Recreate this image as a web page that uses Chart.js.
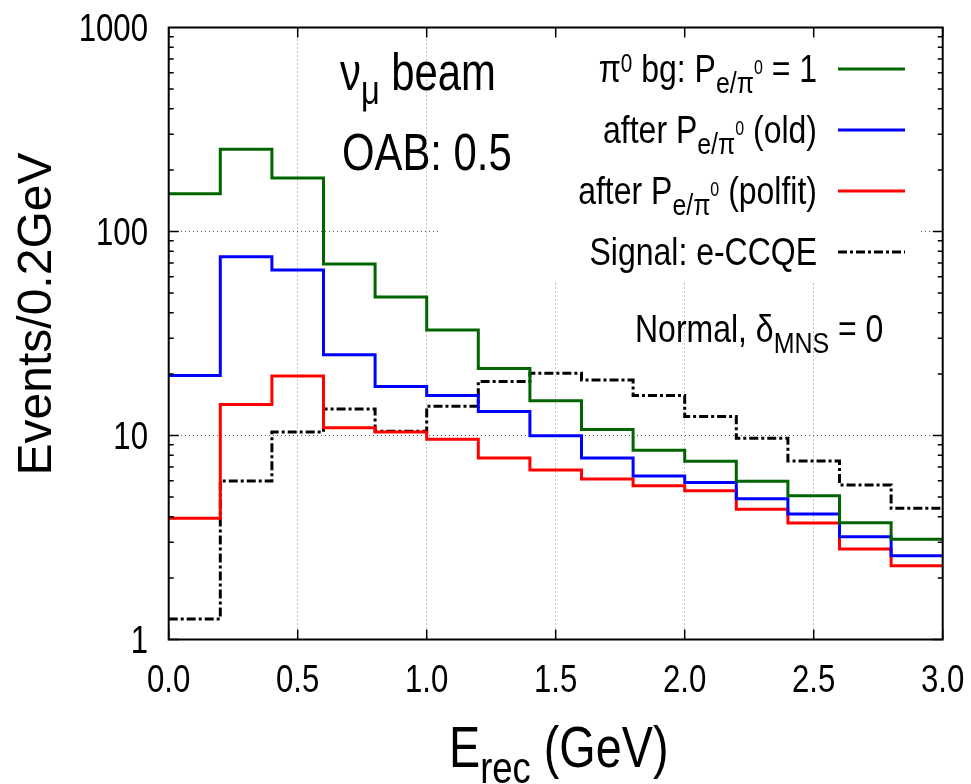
<!DOCTYPE html>
<html>
<head>
<meta charset="utf-8">
<title>pi0 background vs e-CCQE signal</title>
<script src="https://cdn.jsdelivr.net/npm/chart.js@4.4.1/dist/chart.umd.min.js"></script>
<style>
    html, body { margin: 0; padding: 0; background: #fff; }
    #histChart { display: block; }
</style>
</head>
<body>
<canvas id="histChart" width="971" height="784"></canvas>
<script>
// Bin edges in E_rec (GeV), 0.2 GeV bins
const binEdges = [0.0, 0.2, 0.4, 0.6, 0.8, 1.0, 1.2, 1.4, 1.6, 1.8, 2.0, 2.2, 2.4, 2.6, 2.8, 3.0];

// Events per bin
const pi0Background = [153, 253, 183, 69.3, 47.7, 32.9, 21.3, 14.8, 10.7, 8.46, 7.47, 5.96, 5.07, 3.74, 3.10];
const afterOld      = [19.7, 75.2, 64.8, 24.9, 17.4, 15.7, 13.1, 9.98, 7.76, 6.33, 5.89, 4.90, 4.12, 3.19, 2.57];
const afterPolfit   = [3.93, 14.2, 19.6, 10.9, 10.4, 9.58, 7.76, 6.78, 6.12, 5.67, 5.36, 4.35, 3.72, 2.78, 2.30];
const signalCCQE    = [1.26, 5.98, 10.4, 13.5, 10.5, 13.9, 18.4, 20.2, 18.7, 15.7, 12.4, 9.69, 7.50, 5.72, 4.40];

// Axis ticks
const xTicks = [0.0, 0.5, 1.0, 1.5, 2.0, 2.5, 3.0];
const xTickLabels = ['0.0', '0.5', '1.0', '1.5', '2.0', '2.5', '3.0'];
const yTicks = [1, 10, 100, 1000];
const yTickLabels = ['1', '10', '100', '1000'];

const REGULAR = "'Liberation Sans', Arial, sans-serif";
const SQ = 0.82; // horizontal squeeze, the original uses a narrow Helvetica

// turn bin contents into points for a stepped line
function toSteps(values) {
    const pts = values.map((v, i) => ({ x: binEdges[i], y: v }));
    pts.push({ x: binEdges[binEdges.length - 1], y: values[values.length - 1] });
    return pts;
}

// draw narrow text with sub/superscripts; parts = [[text, kind], ...]
const KINDS = {
    n:  { s: 1.0,  dy: 0 },
    sup: { s: 0.65, dy: -0.25 },
    sub: { s: 0.78, dy: 0.28 },
    subsup: { s: 0.5, dy: -0.2 }
};
function richWidth(ctx, parts, size) {
    let w = 0;
    parts.forEach(([t, k]) => {
        ctx.font = `${size * KINDS[k].s}px ${REGULAR}`;
        w += ctx.measureText(t).width * SQ;
    });
    return w;
}
function drawRich(ctx, parts, x, y, size, align) {
    const w = richWidth(ctx, parts, size);
    let cx = x;
    if (align === 'right') cx = x - w;
    if (align === 'center') cx = x - w / 2;
    ctx.textAlign = 'left';
    ctx.textBaseline = 'alphabetic';
    parts.forEach(([t, k]) => {
        ctx.font = `${size * KINDS[k].s}px ${REGULAR}`;
        ctx.save();
        ctx.translate(cx, y + KINDS[k].dy * size);
        ctx.scale(SQ, 1);
        ctx.fillText(t, 0, 0);
        ctx.restore();
        cx += ctx.measureText(t).width * SQ;
    });
}

const legendRows = [
    { parts: [['π', 'n'], ['0', 'sup'], [' bg: P', 'n'], ['e/π', 'sub'], ['0', 'subsup'], [' = 1', 'n']], color: '#006400', dash: [] },
    { parts: [['after P', 'n'], ['e/π', 'sub'], ['0', 'subsup'], [' (old)', 'n']], color: '#0000ff', dash: [] },
    { parts: [['after P', 'n'], ['e/π', 'sub'], ['0', 'subsup'], [' (polfit)', 'n']], color: '#ff0000', dash: [] },
    { parts: [['Signal: e-CCQE', 'n']], color: '#000000', dash: [9, 3, 3, 3] }
];

const decorPlugin = {
    id: 'decor',
    beforeDatasetsDraw(chart) {
        // opaque key box, hides the grid behind the legend
        const ctx = chart.ctx;
        ctx.save();
        ctx.fillStyle = '#ffffff';
        ctx.fillRect(441, 29, 480, 252);
        ctx.restore();
    },
    afterDraw(chart) {
        const ctx = chart.ctx;
        const { left, right, top, bottom } = chart.chartArea;
        const xs = chart.scales.x;
        const ys = chart.scales.y;
        ctx.save();

        // frame
        ctx.strokeStyle = '#000';
        ctx.lineWidth = 2;
        ctx.strokeRect(left, top, right - left, bottom - top);

        // tick marks, inside, mirrored
        ctx.lineWidth = 1.5;
        ctx.beginPath();
        xTicks.forEach(v => {
            const px = xs.getPixelForValue(v);
            ctx.moveTo(px, bottom); ctx.lineTo(px, bottom - 10);
            ctx.moveTo(px, top); ctx.lineTo(px, top + 10);
        });
        for (let d = 1; d < 1000; d *= 10) {
            for (let m = 1; m < 10; m++) {
                const py = ys.getPixelForValue(d * m);
                const len = m === 1 ? 10 : 5;
                ctx.moveTo(left, py); ctx.lineTo(left + len, py);
                ctx.moveTo(right, py); ctx.lineTo(right - len, py);
            }
        }
        ctx.stroke();

        // tick labels
        ctx.fillStyle = '#000';
        xTicks.forEach((v, i) => {
            drawRich(ctx, [[xTickLabels[i], 'n']], xs.getPixelForValue(v), 692, 38, 'center');
        });
        yTicks.forEach((v, i) => {
            drawRich(ctx, [[yTickLabels[i], 'n']], 148, ys.getPixelForValue(v) + 13.5, 38, 'right');
        });

        // legend
        legendRows.forEach((row, i) => {
            const base = 82 + i * 61;
            drawRich(ctx, row.parts, 817, base, 39, 'right');
            ctx.strokeStyle = row.color;
            ctx.lineWidth = 3;
            ctx.setLineDash(row.dash);
            ctx.beginPath();
            ctx.moveTo(838, base - 13);
            ctx.lineTo(905, base - 13);
            ctx.stroke();
            ctx.setLineDash([]);
        });

        // labels
        drawRich(ctx, [['ν', 'n'], ['μ', 'sub'], [' beam', 'n']], 340, 90, 51, 'left');
        drawRich(ctx, [['OAB: 0.5', 'n']], 342, 170, 51, 'left');
        drawRich(ctx, [['Normal, δ', 'n'], ['MNS', 'sub'], [' = 0', 'n']], 635, 342, 39, 'left');

        // axis titles
        drawRich(ctx, [['E', 'n'], ['rec', 'sub'], [' (GeV)', 'n']], 449, 767, 57, 'left');
        ctx.save();
        ctx.translate(51, 314);
        ctx.rotate(-Math.PI / 2);
        ctx.font = `48px ${REGULAR}`;
        ctx.textAlign = 'center';
        ctx.textBaseline = 'alphabetic';
        ctx.fillText('Events/0.2GeV', 0, 0);
        ctx.restore();

        ctx.restore();
    }
};

const ctx = document.getElementById('histChart').getContext('2d');
const histChart = new Chart(ctx, {
    type: 'line',
    data: {
        datasets: [
            { label: 'π0 bg: Pe/π0 = 1', data: toSteps(pi0Background), borderColor: '#006400', borderWidth: 3 },
            { label: 'after Pe/π0 (old)', data: toSteps(afterOld), borderColor: '#0000ff', borderWidth: 3 },
            { label: 'after Pe/π0 (polfit)', data: toSteps(afterPolfit), borderColor: '#ff0000', borderWidth: 3 },
            { label: 'Signal: e-CCQE', data: toSteps(signalCCQE), borderColor: '#000000', borderWidth: 3, borderDash: [9, 3, 3, 3] }
        ]
    },
    options: {
        responsive: false,
        animation: false,
        events: [],
        datasets: {
            line: { stepped: 'before', pointRadius: 0, fill: false, borderCapStyle: 'butt', borderJoinStyle: 'miter' }
        },
        layout: { padding: { top: 27.5, right: 28.3, left: 0, bottom: 0 } },
        plugins: {
            legend: { display: false },
            tooltip: { enabled: false }
        },
        scales: {
            x: {
                type: 'linear',
                min: 0,
                max: 3,
                afterBuildTicks: s => { s.ticks = xTicks.map(v => ({ value: v })); },
                afterFit: s => { s.height = 144.5; s.paddingLeft = 0; s.paddingRight = 0; },
                ticks: { display: false },
                grid: {
                    drawTicks: false,
                    lineWidth: 1,
                    color: c => (c.tick && c.tick.value > 0 && c.tick.value < 3) ? '#888888' : 'rgba(0,0,0,0)'
                },
                border: { display: false, dash: [1, 3] }
            },
            y: {
                type: 'logarithmic',
                min: 1,
                max: 1000,
                afterBuildTicks: s => { s.ticks = yTicks.map(v => ({ value: v, major: true })); },
                afterFit: s => { s.width = 168.7; s.paddingTop = 0; s.paddingBottom = 0; },
                ticks: { display: false },
                grid: {
                    drawTicks: false,
                    lineWidth: 1,
                    color: c => (c.tick && c.tick.value > 1 && c.tick.value < 1000) ? '#555555' : 'rgba(0,0,0,0)'
                },
                border: { display: false, dash: [1, 3] }
            }
        }
    },
    plugins: [decorPlugin]
});
</script>
</body>
</html>
